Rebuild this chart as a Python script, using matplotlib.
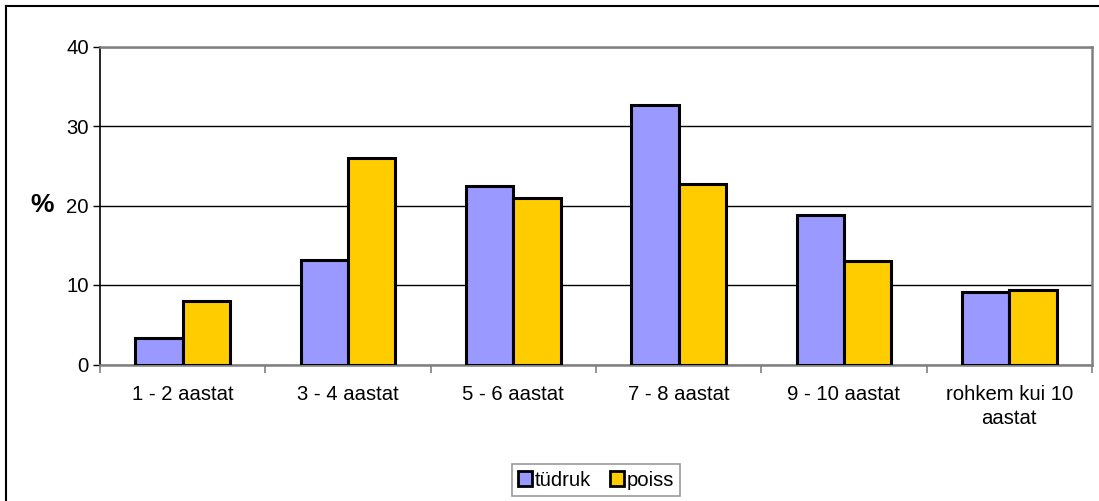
import numpy as np
import matplotlib
matplotlib.use("Agg")
import matplotlib.pyplot as plt
from matplotlib.lines import Line2D
from matplotlib.patches import Patch

plt.rcParams['font.family'] = ['Liberation Sans', 'DejaVu Sans']

categories = ["1 - 2 aastat", "3 - 4 aastat", "5 - 6 aastat", "7 - 8 aastat",
              "9 - 10 aastat", "rohkem kui 10\naastat"]
tudruk = [3.3, 13.1, 22.5, 32.7, 18.85, 9.1]
poiss = [8.0, 26.0, 21.0, 22.75, 13.0, 9.4]
series_names = ["tüdruk", "poiss"]
colors = ["#9999ff", "#ffcc00"]

W, H = 1099, 501
fs = 14.6
fig = plt.figure(figsize=(W / 100, H / 100), dpi=100)
ax = fig.add_axes([100 / W, 1 - 364.5 / H, (1092 - 100) / W, (364.5 - 46.5) / H])

x = np.arange(len(categories))
bw = 0.2857
ax.bar(x - bw / 2, tudruk, bw, color=colors[0], edgecolor="black", linewidth=2.2, zorder=3)
ax.bar(x + bw / 2, poiss, bw, color=colors[1], edgecolor="black", linewidth=2.2, zorder=3)

ax.set_xlim(-0.5, len(categories) - 0.5)
ax.set_ylim(0, 40)
ax.set_yticks([0, 10, 20, 30, 40])
ax.tick_params(axis="y", labelsize=fs, length=5, width=1, pad=3, colors="black")
ax.yaxis.grid(True, color="black", linewidth=1)
ax.set_axisbelow(True)

# category labels at centers, ticks between categories
ax.set_xticks(x)
ax.set_xticklabels(categories, fontsize=fs, linespacing=1.3)
ax.tick_params(axis="x", length=0, pad=15)
ax.set_xticks(np.arange(-0.5, len(categories) + 0.5, 1), minor=True)
ax.tick_params(axis="x", which="minor", length=6, width=1.2, color="#808080")

ax.spines["left"].set_color("black")
ax.spines["left"].set_linewidth(1.2)
for s in ["bottom", "right", "top"]:
    ax.spines[s].set_color("#808080")
    ax.spines[s].set_linewidth(1.8)

fig.text(42 / W, 1 - 205 / H, "%", fontsize=19, fontweight="bold",
         ha="center", va="center")

handles = [Patch(facecolor=c, edgecolor="black", linewidth=2) for c in colors]
leg = fig.legend(handles, series_names, loc="center", bbox_to_anchor=(596 / W, 1 - 480 / H),
                 ncol=2, fontsize=fs, frameon=True, fancybox=False,
                 handlelength=0.7, handleheight=0.7, handletextpad=0.15,
                 columnspacing=0.9, borderpad=0.3, borderaxespad=0)
leg.get_frame().set_edgecolor("#808080")
leg.get_frame().set_linewidth(1.2)

# outer chart border (left and top visible)
fig.add_artist(Line2D([6 / W, 6 / W], [0, 1 - 6 / H], transform=fig.transFigure,
                      color="black", linewidth=1.5))
fig.add_artist(Line2D([6 / W, 1], [1 - 6 / H, 1 - 6 / H], transform=fig.transFigure,
                      color="black", linewidth=1.5))

fig.savefig("out.png", dpi=100)
